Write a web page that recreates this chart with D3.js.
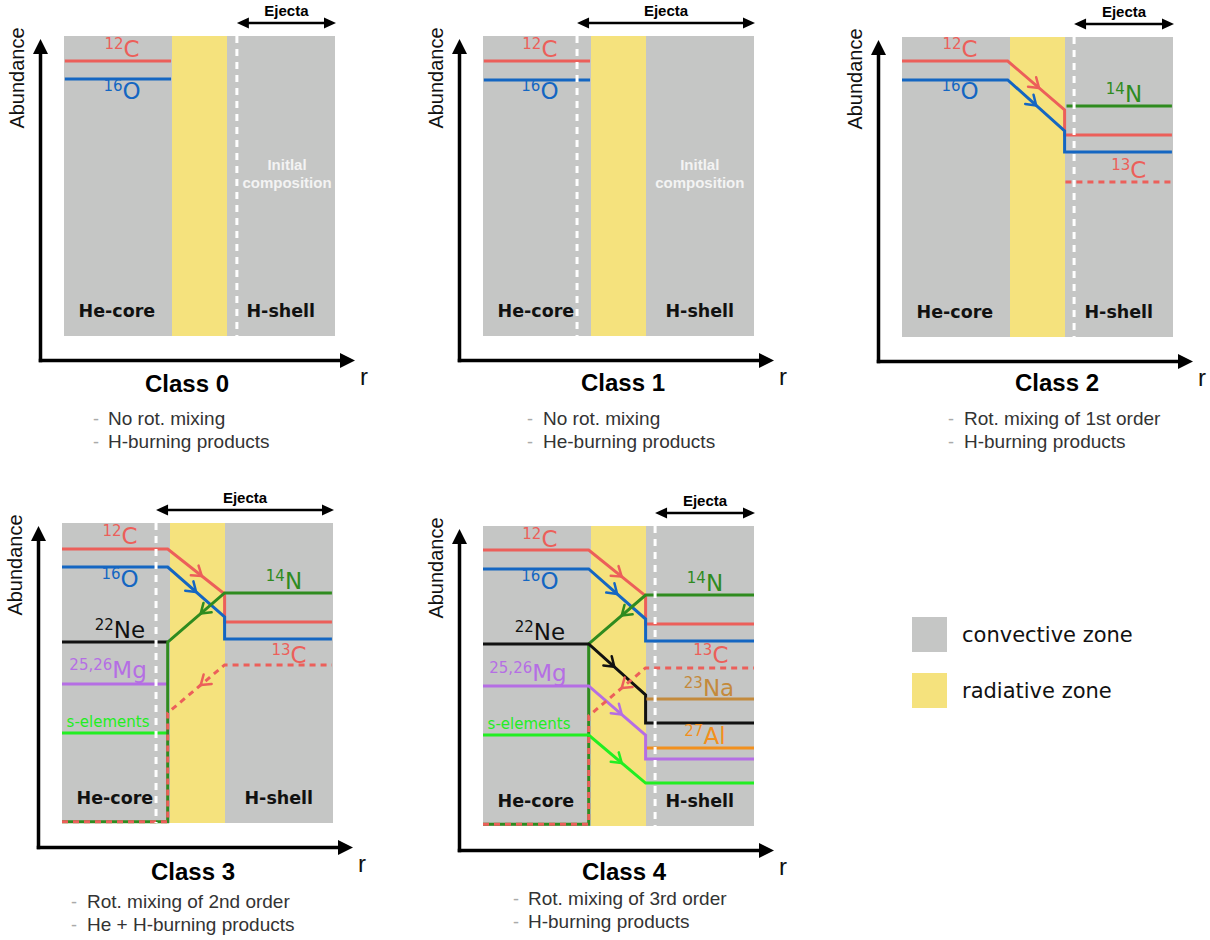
<!DOCTYPE html>
<html><head><meta charset="utf-8">
<script src="https://cdn.jsdelivr.net/npm/d3@7"></script>
<style>body{margin:0;background:#fff}</style>
</head><body>
<svg id="chart" width="1210" height="940"></svg>
<script>
// ================= DATA =================
const classNames = ["Class 0", "Class 1", "Class 2", "Class 3", "Class 4"];
const classNotes = [
  ["No rot. mixing", "H-burning products"],
  ["No rot. mixing", "He-burning products"],
  ["Rot. mixing of 1st order", "H-burning products"],
  ["Rot. mixing of 2nd order", "He + H-burning products"],
  ["Rot. mixing of 3rd order", "H-burning products"]
];
// zones along r (0..100): He-core | radiative | H-shell
const zoneBounds = [0, 40, 60, 100];
const zoneTypes = ["convective", "radiative", "convective"];
const zoneNames = ["He-core", "", "H-shell"];
const legendLabels = ["convective zone", "radiative zone"];
// start of ejected region (white dashed line) per class, r units
const ejectaStart = [63.8, 34.7, 63.5, 34.7, 63.5];
const initialComposition = ["Initlal", "composition"];
const showInitial = [true, true, false, false, false];

// abundance profiles: points [r, abundance]; arrow = [segment index, fraction, reversed]
const class0Series = [
  { iso: "C12", pts: [[0.3, 91.7], [39.5, 91.7]] },
  { iso: "O16", pts: [[0.3, 85.7], [39.5, 85.7]] }
];
const class1Series = [
  { iso: "C12", pts: [[0.3, 91.7], [39.5, 91.7]] },
  { iso: "O16", pts: [[0.3, 85.3], [39.5, 85.3]] }
];
const class2Series = [
  { iso: "C12", pts: [[0, 92], [39, 92], [60, 75.7], [60, 67.3], [99.6, 67.3]], arrow: [1, 0.55, false] },
  { iso: "O16", pts: [[0, 85.7], [39, 85.7], [60, 68.7], [60, 61.7], [99.6, 61.7]], arrow: [1, 0.5, false] },
  { iso: "N14", pts: [[60.7, 77], [99.6, 77]] },
  { iso: "C13", pts: [[60.3, 51.7], [99.6, 51.7]], dashed: true }
];
const class3Series = [
  { iso: "C12", pts: [[0, 91.3], [39, 91.3], [60, 76.3], [60, 67], [99.6, 67]], arrow: [1, 0.6, false] },
  { iso: "O16", pts: [[0, 85.3], [39, 85.3], [60, 68.7], [60, 61.3], [99.6, 61.3]], arrow: [1, 0.5, false] },
  { iso: "Ne22", pts: [[0, 60.3], [39, 60.3]] },
  { iso: "Mg", pts: [[0, 46.3], [39, 46.3]] },
  { iso: "sel", pts: [[0, 30], [39, 30]] },
  { iso: "N14", pts: [[0, 0.4], [39, 0.4], [39, 60.3], [60, 76.7], [99.6, 76.7]], arrow: [2, 0.42, true] },
  { iso: "C13", pts: [[0, 0.4], [39, 0.4], [39, 36.7], [60, 52.7], [99.6, 52.7]], dashed: true, arrow: [2, 0.42, true] }
];
const class4Series = [
  { iso: "C12", pts: [[0, 92], [39, 92], [60, 76.7], [60, 67.3], [100, 67.3]], arrow: [1, 0.58, false] },
  { iso: "O16", pts: [[0, 85.7], [39, 85.7], [60, 69], [60, 61.7], [100, 61.7]], arrow: [1, 0.5, false] },
  { iso: "N14", pts: [[0, 0.6], [39, 0.6], [39, 60.7], [60, 77], [100, 77]], arrow: [2, 0.42, true] },
  { iso: "Ne22", pts: [[0, 60.7], [39, 60.7], [60, 43.7], [60, 34.3], [100, 34.3]], arrow: [1, 0.45, false] },
  { iso: "Mg", pts: [[0, 46.7], [39, 46.7], [60, 30.3], [60, 22.3], [100, 22.3]], arrow: [1, 0.58, false] },
  { iso: "sel", pts: [[0, 30.3], [39, 30.3], [60, 14.3], [100, 14.3]], arrow: [1, 0.58, false] },
  { iso: "Na23", pts: [[60.3, 42.3], [100, 42.3]] },
  { iso: "Al27", pts: [[60.5, 26], [100, 26]] },
  { iso: "C13", pts: [[0, 0.6], [39, 0.6], [39, 36.7], [60, 52.7], [100, 52.7]], dashed: true, arrow: [2, 0.42, true] }
];
const seriesByClass = [class0Series, class1Series, class2Series, class3Series, class4Series];

// isotope label text: [superscript, symbol]
const isoText = {
  C12: ["12", "C"], O16: ["16", "O"], N14: ["14", "N"], C13: ["13", "C"],
  Ne22: ["22", "Ne"], Mg: ["25,26", "Mg"], Na23: ["23", "Na"], Al27: ["27", "Al"],
  sel: [null, "s-elements"]
};

// ================= LAYOUT / STYLE =================
const panelLayout = [
  { L: 64, T: 36 }, { L: 483, T: 36 }, { L: 902, T: 37 }, { L: 62, T: 523 }, { L: 483, T: 526 }
];
const PW = 271, PH = 300;
const titlePos = [[187, 392], [623, 391], [1057, 391], [193, 880], [624, 880]];
const notesPos = [[93, 108, 425], [527, 543, 425], [948, 964, 425], [71, 87, 908], [513, 528, 905]];
// label anchors (r, abundance) per class
const labelPos = [
  { C12: [21.4, 93], O16: [21.4, 79] },
  { C12: [21, 93], O16: [21, 79] },
  { C12: [21.4, 93.3], O16: [21.4, 79.3], N14: [81.9, 78.3], C13: [83.7, 53] },
  { C12: [21.4, 93], O16: [21.4, 78.7], Ne22: [21.4, 61.7], Mg: [17, 48.3], sel: [17, 32], N14: [81.9, 78], C13: [83.8, 53.3] },
  { C12: [21, 93], O16: [21, 79], Ne22: [21, 62], Mg: [16.6, 48.3], sel: [17, 32.3], N14: [81.9, 78.3], C13: [84.1, 54.3], Na23: [83.4, 43.3], Al27: [81.9, 27.3] }
];
const zoneColor = { convective: "#c5c6c5", radiative: "#f5e27d" };
const isoColor = {
  C12: "#ec5f5a", O16: "#1466c2", N14: "#2f8b1f", C13: "#ec5f5a", Ne22: "#111111",
  Mg: "#b56ee4", sel: "#22ee22", Na23: "#c48a3c", Al27: "#f2901e"
};
const SANS = "'Liberation Sans', Arial, sans-serif";
const DJV = "'DejaVu Sans', Verdana, sans-serif";

const svg = d3.select("#chart");

function tri(g, tip, dir, len, wid, color) {
  const [tx, ty] = tip, [dx, dy] = dir;
  const bx = tx - dx * len, by = ty - dy * len;
  const nx = -dy, ny = dx;
  g.append("path")
    .attr("d", `M${tx},${ty}L${bx + nx * wid / 2},${by + ny * wid / 2}L${bx - nx * wid / 2},${by - ny * wid / 2}Z`)
    .attr("fill", color);
}

function chevron(g, p0, p1, t, rev, color) {
  let a = p0, b = p1;
  if (rev) { a = p1; b = p0; }
  const len = Math.hypot(b[0] - a[0], b[1] - a[1]);
  const dx = (b[0] - a[0]) / len, dy = (b[1] - a[1]) / len;
  const tx = a[0] + (b[0] - a[0]) * t, ty = a[1] + (b[1] - a[1]) * t;
  const L = 11, th = 0.6;
  const w = s => {
    const u = -dx, v = -dy, c = Math.cos(s * th), sn = Math.sin(s * th);
    return [tx + L * (u * c - v * sn), ty + L * (u * sn + v * c)];
  };
  const w1 = w(1), w2 = w(-1);
  g.append("path")
    .attr("d", `M${w1[0]},${w1[1]}L${tx},${ty}L${w2[0]},${w2[1]}`)
    .attr("fill", "none").attr("stroke", color).attr("stroke-width", 2.5)
    .attr("stroke-linecap", "round").attr("stroke-linejoin", "round");
}

function drawPanel(i) {
  const P = panelLayout[i];
  const x = d3.scaleLinear().domain([0, 100]).range([P.L, P.L + PW]);
  const y = d3.scaleLinear().domain([0, 100]).range([P.T + PH, P.T]);
  const g = svg.append("g");

  // zones
  zoneTypes.forEach((t, k) => {
    g.append("rect")
      .attr("x", x(zoneBounds[k])).attr("y", y(100))
      .attr("width", x(zoneBounds[k + 1]) - x(zoneBounds[k]))
      .attr("height", y(0) - y(100))
      .attr("fill", zoneColor[t])
      .attr("shape-rendering", "crispEdges");
  });

  // abundance lines
  const line = d3.line().x(d => x(d[0])).y(d => y(d[1]));
  seriesByClass[i].forEach(s => {
    g.append("path").attr("d", line(s.pts))
      .attr("fill", "none").attr("stroke", isoColor[s.iso]).attr("stroke-width", 3)
      .attr("stroke-dasharray", s.dashed ? "6,5" : null)
      .attr("stroke-linejoin", "miter");
    if (s.arrow) {
      const [seg, t, rev] = s.arrow;
      const p0 = [x(s.pts[seg][0]), y(s.pts[seg][1])];
      const p1 = [x(s.pts[seg + 1][0]), y(s.pts[seg + 1][1])];
      chevron(g, p0, p1, t, rev, isoColor[s.iso]);
    }
  });

  // white dashed line (ejecta boundary)
  g.append("line")
    .attr("x1", x(ejectaStart[i])).attr("x2", x(ejectaStart[i]))
    .attr("y1", y(100)).attr("y2", y(0))
    .attr("stroke", "#ffffff").attr("stroke-width", 3).attr("stroke-dasharray", "7,6");

  // zone names
  zoneNames.forEach((n, k) => {
    if (!n) return;
    g.append("text").attr("x", x(k === 0 ? 19.5 : 80)).attr("y", y(6.3))
      .attr("text-anchor", "middle").attr("font-family", DJV).attr("font-weight", "bold")
      .attr("font-size", 17.5).attr("fill", "#111").text(n);
  });
  if (showInitial[i]) {
    const cx = i === 0 ? 82.3 : 80;
    initialComposition.forEach((t, k) => {
      g.append("text").attr("x", x(cx)).attr("y", y(100) + 134 + k * 18)
        .attr("text-anchor", "middle").attr("font-family", SANS).attr("font-weight", "bold")
        .attr("font-size", 15).attr("fill", "#f3f3f3").text(t);
    });
  }

  // isotope labels
  const lp = labelPos[i];
  seriesByClass[i].forEach(s => {
    const pos = lp[s.iso];
    if (!pos) return;
    const [sup, sym] = isoText[s.iso];
    const tx = g.append("text").attr("x", x(pos[0])).attr("y", y(pos[1]))
      .attr("text-anchor", "middle").attr("font-family", DJV).attr("fill", isoColor[s.iso]);
    if (sup) {
      tx.append("tspan").attr("font-size", 15).attr("dy", -8).text(sup);
      tx.append("tspan").attr("font-size", 23).attr("dy", 8).text(sym);
    } else {
      tx.attr("font-size", 15).text(sym);
    }
  });

  // Ejecta arrow
  const ey = y(100) - 13;
  const ex0 = x(ejectaStart[i]), ex1 = x(100) + 1;
  g.append("line").attr("x1", ex0 + 8).attr("x2", ex1 - 8).attr("y1", ey).attr("y2", ey)
    .attr("stroke", "#000").attr("stroke-width", 2.6);
  tri(g, [ex0, ey], [-1, 0], 12, 11, "#000");
  tri(g, [ex1, ey], [1, 0], 12, 11, "#000");
  g.append("text").attr("x", (ex0 + ex1) / 2).attr("y", y(100) - 20)
    .attr("text-anchor", "middle").attr("font-family", SANS).attr("font-weight", "bold")
    .attr("font-size", 15).attr("fill", "#000").text("Ejecta");

  // axes
  const ax = P.L - 23.5, ayb = y(0) + 24.5, ayt = y(100) + 3, axr = x(100) + 20;
  g.append("line").attr("x1", ax).attr("x2", ax).attr("y1", ayb + 1.75).attr("y2", ayt + 12)
    .attr("stroke", "#000").attr("stroke-width", 3.5);
  tri(g, [ax, ayt], [0, -1], 15, 15, "#000");
  g.append("line").attr("x1", ax - 1.75).attr("x2", axr - 12).attr("y1", ayb).attr("y2", ayb)
    .attr("stroke", "#000").attr("stroke-width", 3.5);
  tri(g, [axr, ayb], [1, 0], 15, 15, "#000");
  g.append("text").attr("transform", `translate(${P.L - 40},${y(100) + 42}) rotate(-90)`)
    .attr("text-anchor", "middle").attr("font-family", SANS).attr("font-size", 20)
    .attr("fill", "#111").text("Abundance");
  g.append("text").attr("x", x(100) + 29).attr("y", ayb + 24)
    .attr("text-anchor", "middle").attr("font-family", SANS).attr("font-size", 24)
    .attr("fill", "#111").text("r");

  // title and notes
  g.append("text").attr("x", titlePos[i][0]).attr("y", titlePos[i][1])
    .attr("text-anchor", "middle").attr("font-family", SANS).attr("font-weight", "bold")
    .attr("font-size", 24).attr("fill", "#000").text(classNames[i]);
  const [dxp, txp, nyp] = notesPos[i];
  classNotes[i].forEach((t, k) => {
    g.append("text").attr("x", dxp).attr("y", nyp + k * 22.5)
      .attr("font-family", SANS).attr("font-size", 18).attr("fill", "#aaa").text("-");
    g.append("text").attr("x", txp).attr("y", nyp + k * 22.5)
      .attr("font-family", SANS).attr("font-size", 19).attr("fill", "#333").text(t);
  });
}

classNames.forEach((c, i) => drawPanel(i));

// legend
const legY = d3.scaleBand().domain(legendLabels).range([617, 729]).paddingInner(0.0);
const legColors = [zoneColor.convective, zoneColor.radiative];
legendLabels.forEach((l, k) => {
  const y0 = 617 + k * 56;
  svg.append("rect").attr("x", 912).attr("y", y0).attr("width", 35).attr("height", 35)
    .attr("fill", legColors[k]);
  svg.append("text").attr("x", 962).attr("y", y0 + 25).attr("font-family", DJV)
    .attr("font-size", 21).attr("fill", "#111").text(l);
});
</script>
</body></html>
